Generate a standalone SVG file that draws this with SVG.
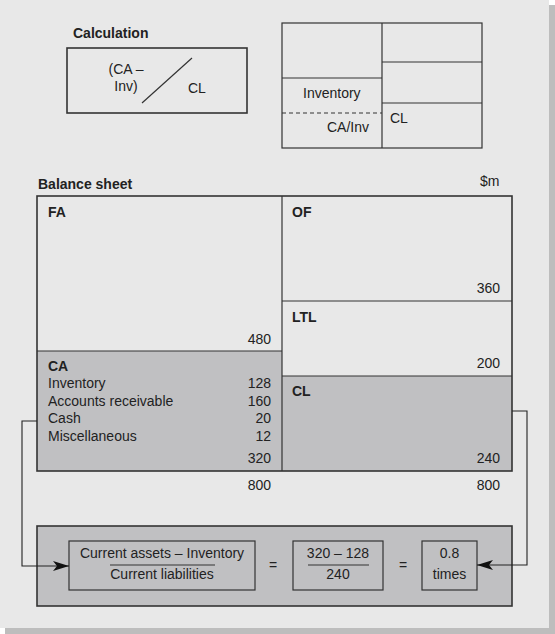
<svg xmlns="http://www.w3.org/2000/svg" width="555" height="634" viewBox="0 0 555 634">
<defs>
<style>
text{font-family:"Liberation Sans",Arial,sans-serif;font-size:14px;fill:#222}
.b{font-weight:bold}
.r{text-anchor:end}
.m{text-anchor:middle}
.ln{stroke:#333;stroke-width:1.2;fill:none}
.bx{stroke:#333;stroke-width:1.6}
.con{stroke:#222;stroke-width:1.1;fill:none}
</style>
<marker id="arr" viewBox="0 0 16 10" refX="16" refY="5" markerWidth="16" markerHeight="10" markerUnits="userSpaceOnUse" orient="auto">
<path d="M0,0 L16,5 L0,10 L4,5 Z" fill="#111"/>
</marker>
</defs>
<rect x="0" y="0" width="555" height="634" fill="#ffffff"/>
<rect x="5" y="5" width="550" height="629" fill="#bdbdbd"/>
<rect x="0" y="0" width="549" height="628" fill="#e8e8e8"/>

<g id="calculation">
<text class="b" x="73" y="38">Calculation</text>
<rect x="67" y="48" width="180" height="65" fill="none" class="bx"/>
<line x1="142" y1="103" x2="192" y2="58" class="ln"/>
<text class="m" x="126" y="74">(CA –</text>
<text class="m" x="126" y="91">Inv)</text>
<text x="188" y="93">CL</text>
</g>

<g id="mini-sheet">
<rect x="282" y="23" width="200" height="125" fill="none" class="ln"/>
<line x1="382" y1="23" x2="382" y2="148" class="ln"/>
<line x1="282" y1="78" x2="382" y2="78" class="ln"/>
<line x1="282" y1="113" x2="382" y2="113" class="ln" stroke-dasharray="4,3"/>
<line x1="382" y1="62" x2="482" y2="62" class="ln"/>
<line x1="382" y1="103" x2="482" y2="103" class="ln"/>
<text x="303" y="98">Inventory</text>
<text x="327" y="132">CA/Inv</text>
<text x="390" y="123">CL</text>
</g>

<g id="balance-sheet">
<text class="b" x="38" y="189">Balance sheet</text>
<text x="480" y="186">$m</text>
<rect x="37" y="351" width="245" height="120" fill="#c0c0c2"/>
<rect x="282" y="376" width="230" height="95" fill="#c0c0c2"/>
<line x1="37" y1="351" x2="282" y2="351" class="ln" stroke-width="1.6"/>
<line x1="282" y1="301" x2="512" y2="301" class="ln"/>
<line x1="282" y1="376" x2="512" y2="376" class="ln" stroke-width="1.6"/>
<line x1="282" y1="196" x2="282" y2="471" class="ln"/>
<rect x="37" y="196" width="475" height="275" fill="none" class="bx"/>
</g>

<g id="FA">
<text class="b" x="48" y="217">FA</text>
<text class="r" x="271" y="344">480</text>
</g>
<g id="OF">
<text class="b" x="292" y="217">OF</text>
<text class="r" x="500" y="293">360</text>
</g>
<g id="LTL">
<text class="b" x="292" y="322">LTL</text>
<text class="r" x="500" y="368">200</text>
</g>
<g id="CL">
<text class="b" x="292" y="396">CL</text>
<text class="r" x="500" y="463">240</text>
</g>
<g id="CA">
<text class="b" x="48" y="371">CA</text>
<text x="48" y="388">Inventory</text>
<text x="48" y="406">Accounts receivable</text>
<text x="48" y="423">Cash</text>
<text x="48" y="441">Miscellaneous</text>
<text class="r" x="271" y="388">128</text>
<text class="r" x="271" y="406">160</text>
<text class="r" x="271" y="423">20</text>
<text class="r" x="271" y="441">12</text>
<text class="r" x="271" y="463">320</text>
</g>
<g id="totals">
<text class="r" x="271" y="490">800</text>
<text class="r" x="500" y="490">800</text>
</g>

<g id="formula">
<rect x="37" y="526" width="475" height="80" fill="#c0c0c2" class="bx"/>
<rect x="69" y="541" width="186" height="49" fill="#ffffff" class="ln"/>
<text class="m" x="162" y="558">Current assets – Inventory</text>
<line x1="110" y1="565" x2="215" y2="565" class="ln"/>
<text class="m" x="162" y="579">Current liabilities</text>
<text class="m" x="273" y="570">=</text>
<rect x="293" y="541" width="90" height="49" fill="#ffffff" class="ln"/>
<text class="m" x="338" y="558">320 – 128</text>
<line x1="308" y1="565" x2="369" y2="565" class="ln"/>
<text class="m" x="338" y="579">240</text>
<text class="m" x="403" y="570">=</text>
<rect x="422" y="541" width="55" height="49" fill="#ffffff" class="ln"/>
<text class="m" x="449.5" y="558">0.8</text>
<text class="m" x="449.5" y="579">times</text>
</g>

<g id="connectors">
<polyline points="37,421 22,421 22,566 69,566" class="con" marker-end="url(#arr)"/>
<polyline points="512,411 527,411 527,565 477,565" class="con" marker-end="url(#arr)"/>
</g>
</svg>
